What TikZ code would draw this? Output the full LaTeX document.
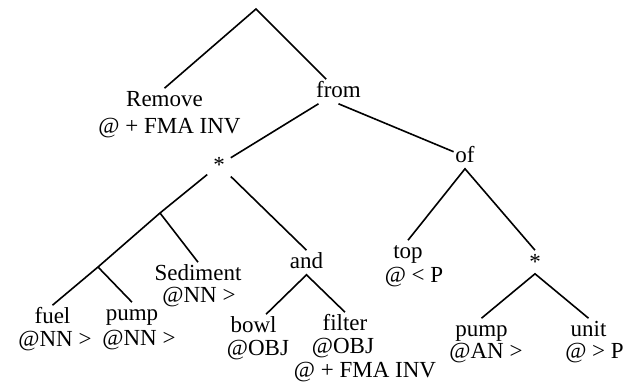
\documentclass[tikz,border=0pt]{standalone}
\usepackage{fontspec}
\setmainfont{Liberation Serif}

\begin{document}
\begin{tikzpicture}[x=1pt, y=-1pt, line width=1.6pt,
  treefont/.style={font=\fontsize{23}{23}\selectfont},
  word/.style={treefont, inner sep=1pt, text height=16pt, text depth=5pt, anchor=base},
  tag/.style={treefont, inner sep=1pt, anchor=base},
  star/.style={treefont, inner sep=0pt, minimum size=22pt}]
  \useasboundingbox (0,0) rectangle (641,386);

  % Define positions
  \coordinate (root) at (256,9);
  \node (remove) [word] at (164.5,106) {Remove};
  \node (removetag) [tag] at (169.5,133) {@ + FMA INV};
  \node (from) [word] at (338.5,97) {from};
  \node (of) [word] at (465,162) {of};
  \node (star1) [star] at (219,165) {*};
  \coordinate (j1) at (160,213);
  \coordinate (j2) at (98,267);
  \node (sediment) [word] at (198,280) {Sediment};
  \node (sedimenttag) [tag] at (199,302) {@NN >};
  \node (fuel) [word] at (52.5,323) {fuel};
  \node (fueltag) [tag] at (55,346) {@NN >};
  \node (pump1) [word] at (132,320) {pump};
  \node (pump1tag) [tag] at (139,345) {@NN >};
  \node (and) [word] at (306.5,268) {and};
  \node (bowl) [word] at (253.5,332) {bowl};
  \node (bowltag) [tag] at (258,355) {@OBJ};
  \node (filter) [word] at (345,330) {filter};
  \node (filtertag) [tag] at (343,353) {@OBJ};
  \node (filterfma) [tag] at (365,377) {@ + FMA INV};
  \node (top) [word] at (408,258) {top};
  \node (toptag) [tag] at (414,282) {@ < P};
  \node (star2) [star] at (535,262) {*};
  \node (pump2) [word] at (481.5,336) {pump};
  \node (pump2tag) [tag] at (486,358) {@AN >};
  \node (unit) [word] at (588.5,336) {unit};
  \node (unittag) [tag] at (594.5,358) {@ > P};

  % Branches
  \draw (remove.north) -- (root) -- (from);
  \draw (from.south) -- (of);
  \draw (from) -- (star1);
  \draw (star1) -- (j1) -- (j2) -- (fuel.north);
  \draw (j1) -- (sediment.north);
  \draw (j2) -- (pump1.north);
  \draw (star1) -- (and.north);
  \draw (bowl) -- (and.south) -- (filter.north);
  \draw (top.north) -- (of.south) -- (star2.north);
  \draw (pump2.north) -- (star2.south) -- (unit.north);
\end{tikzpicture}
\end{document}
